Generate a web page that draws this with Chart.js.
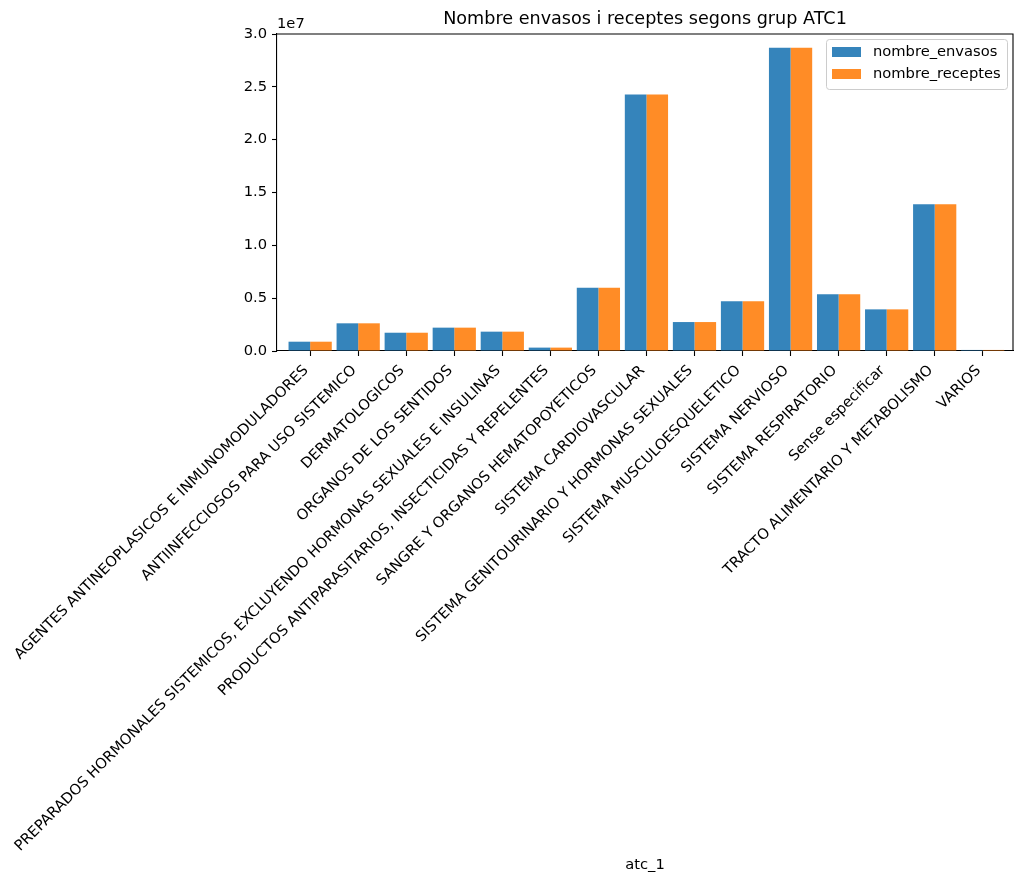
<!DOCTYPE html>
<html>
<head>
<meta charset="utf-8">
<script src="https://cdn.jsdelivr.net/npm/chart.js@4"></script>
<style>
  html, body { margin: 0; padding: 0; background: #fff; }
  #wrap { width: 1024px; height: 884px; }
</style>
</head>
<body>
<div id="wrap"><canvas id="chart" width="1024" height="884"></canvas></div>
<script>
const categories = [
  'AGENTES ANTINEOPLASICOS E INMUNOMODULADORES',
  'ANTIINFECCIOSOS PARA USO SISTEMICO',
  'DERMATOLOGICOS',
  'ORGANOS DE LOS SENTIDOS',
  'PREPARADOS HORMONALES SISTEMICOS, EXCLUYENDO HORMONAS SEXUALES E INSULINAS',
  'PRODUCTOS ANTIPARASITARIOS, INSECTICIDAS Y REPELENTES',
  'SANGRE Y ORGANOS HEMATOPOYETICOS',
  'SISTEMA CARDIOVASCULAR',
  'SISTEMA GENITOURINARIO Y HORMONAS SEXUALES',
  'SISTEMA MUSCULOESQUELETICO',
  'SISTEMA NERVIOSO',
  'SISTEMA RESPIRATORIO',
  'Sense especificar',
  'TRACTO ALIMENTARIO Y METABOLISMO',
  'VARIOS'
];

const nombreEnvasos = [880000, 2620000, 1730000, 2210000, 1830000, 320000, 5990000,
  24270000, 2740000, 4700000, 28710000, 5360000, 3940000, 13880000, 100000];
const nombreReceptes = [880000, 2620000, 1730000, 2210000, 1830000, 320000, 5990000,
  24270000, 2740000, 4700000, 28710000, 5360000, 3940000, 13880000, 100000];

const yTicks = [0, 5e6, 1e7, 1.5e7, 2e7, 2.5e7, 3e7];

const FONT = 'DejaVu Sans';
const toPoints = arr => arr.map((v, i) => ({ x: i, y: v }));

// title, 1e7 offset text, top/right spines and the boxed legend
const decorations = {
  id: 'decorations',
  afterDraw(chart) {
    const { ctx, chartArea: a } = chart;
    ctx.save();
    ctx.strokeStyle = '#000';
    ctx.lineWidth = 1.1;
    ctx.beginPath();
    ctx.moveTo(a.left, a.top);
    ctx.lineTo(a.right, a.top);
    ctx.lineTo(a.right, a.bottom);
    ctx.stroke();

    ctx.fillStyle = '#000';
    ctx.font = `17.6px "${FONT}"`;
    ctx.textAlign = 'center';
    ctx.textBaseline = 'alphabetic';
    ctx.fillText('Nombre envasos i receptes segons grup ATC1', (a.left + a.right) / 2, a.top - 10);

    ctx.font = `14.7px "${FONT}"`;
    ctx.textAlign = 'left';
    ctx.fillText('1e7', a.left, a.top - 6);

    // legend
    const sets = chart.data.datasets;
    const bx = 826, by = 39, bw = 181, bh = 50;
    ctx.fillStyle = 'rgba(255,255,255,0.8)';
    ctx.strokeStyle = '#cccccc';
    ctx.lineWidth = 1;
    ctx.beginPath();
    ctx.roundRect(bx + 0.5, by + 0.5, bw, bh, 3);
    ctx.fill();
    ctx.stroke();
    ctx.textBaseline = 'middle';
    sets.forEach((ds, i) => {
      const cy = by + 13 + i * 22;
      ctx.fillStyle = ds.backgroundColor;
      ctx.fillRect(bx + 6, cy - 5, 29, 10);
      ctx.fillStyle = '#000';
      ctx.fillText(ds.label, bx + 47, cy);
    });
    ctx.restore();
  }
};

new Chart(document.getElementById('chart'), {
  type: 'bar',
  data: {
    datasets: [
      { label: 'nombre_envasos', data: toPoints(nombreEnvasos), backgroundColor: 'rgba(31,119,180,0.9)' },
      { label: 'nombre_receptes', data: toPoints(nombreReceptes), backgroundColor: 'rgba(255,127,14,0.9)' }
    ]
  },
  options: {
    responsive: false,
    animation: false,
    devicePixelRatio: 1,
    categoryPercentage: 0.9,
    barPercentage: 1.0,
    layout: { padding: { top: 34, right: 11, left: 0, bottom: 6 } },
    plugins: {
      legend: { display: false },
      tooltip: { enabled: false }
    },
    scales: {
      x: {
        type: 'linear',
        offset: false,
        min: -0.69,
        max: 14.63,
        afterFit: s => { s.height = 884 - 351 - 6; s.paddingLeft = 0; s.paddingRight = 0; },
        grid: { offset: false, drawOnChartArea: false, tickLength: 5, color: '#000', tickWidth: 1.1 },
        border: { color: '#000', width: 1.1 },
        ticks: {
          stepSize: 1,
          includeBounds: false,
          autoSkip: false,
          maxRotation: 45,
          minRotation: 45,
          padding: 6,
          labelOffset: -4,
          color: '#000',
          font: { family: FONT, size: 14.7 },
          callback: v => Number.isInteger(v) ? categories[v] : ''
        },
        title: {
          display: true,
          text: 'atc_1',
          color: '#000',
          font: { family: FONT, size: 14.7 },
          padding: { top: 0, bottom: 4 }
        }
      },
      y: {
        min: 0,
        max: 3e7,
        afterFit: s => { s.width = 277; },
        afterBuildTicks: s => { s.ticks = yTicks.map(v => ({ value: v })); },
        grid: { drawOnChartArea: false, tickLength: 5, color: '#000', tickWidth: 1.1 },
        border: { color: '#000', width: 1.1 },
        ticks: {
          padding: 5,
          color: '#000',
          font: { family: FONT, size: 14.7 },
          callback: v => (v / 1e7).toFixed(1)
        }
      }
    }
  },
  plugins: [decorations]
});
</script>
</body>
</html>
